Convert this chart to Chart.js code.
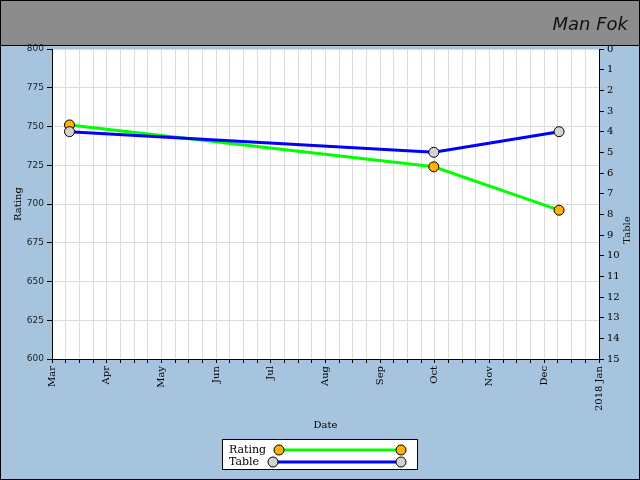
<!DOCTYPE html>
<html>
<head>
<meta charset="utf-8">
<script src="https://cdn.jsdelivr.net/npm/chart.js@4"></script>
<style>
  html, body { margin: 0; padding: 0; background: #a6c4de; }
  #wrap { width: 640px; height: 480px; position: relative; }
</style>
</head>
<body>
<div id="wrap"><canvas id="ratingChart" width="640" height="480"></canvas></div>
<script>
// month ticks, one label per whole month counted from 1 Mar
const monthLabels = ['Mar', 'Apr', 'May', 'Jun', 'Jul', 'Aug', 'Sep', 'Oct', 'Nov', 'Dec', '2018 Jan'];
// match dates as months since 1 Mar
const matchDates = [0.32, 6.98, 9.27];
const ratingValues = [751, 724, 696];
const tablePositions = [4, 5, 4];

const playerName = 'Man Fok';
const serif = 'DejaVu Serif';

function toPoints(xs, ys) {
  return xs.map((x, i) => ({ x: x, y: ys[i] }));
}

function drawMarker(ctx, x, y, fill) {
  ctx.beginPath();
  ctx.arc(x, y, 5, 0, Math.PI * 2);
  ctx.fillStyle = fill;
  ctx.fill();
  ctx.lineWidth = 1;
  ctx.strokeStyle = '#000';
  ctx.stroke();
}

const framePlugin = {
  id: 'frame',
  beforeDraw(chart) {
    const ctx = chart.ctx;
    const a = chart.chartArea;
    ctx.save();
    ctx.fillStyle = '#a6c4de';
    ctx.fillRect(0, 0, 640, 480);
    ctx.fillStyle = '#8c8c8c';
    ctx.fillRect(0, 0, 640, 45);
    ctx.fillStyle = '#fff';
    ctx.fillRect(a.left, a.top, a.right - a.left, a.bottom - a.top);
    ctx.restore();
  },
  afterDraw(chart) {
    const ctx = chart.ctx;
    ctx.save();
    // header line and outer border
    ctx.strokeStyle = '#000';
    ctx.lineWidth = 1;
    ctx.beginPath();
    ctx.moveTo(0, 45.5);
    ctx.lineTo(640, 45.5);
    ctx.stroke();
    ctx.strokeRect(0.5, 0.5, 639, 479);

    // player name
    ctx.fillStyle = '#111';
    ctx.font = 'italic 200 18px "DejaVu Sans"';
    ctx.textAlign = 'right';
    ctx.textBaseline = 'alphabetic';
    ctx.fillText(playerName, 628, 30);

    // right axis title, reading upwards
    ctx.font = '10px "' + serif + '"';
    ctx.textAlign = 'center';
    ctx.textBaseline = 'middle';
    ctx.translate(627, 230);
    ctx.rotate(-Math.PI / 2);
    ctx.fillText('Table', 0, 0);
    ctx.setTransform(1, 0, 0, 1, 0, 0);

    // legend box
    ctx.fillStyle = '#fff';
    ctx.fillRect(222, 439, 196, 31);
    ctx.lineWidth = 1;
    ctx.strokeRect(222.5, 439.5, 195, 30);
    const sets = chart.data.datasets;
    const rows = [
      { ds: sets[1], y: 450, x0: 279 },
      { ds: sets[0], y: 462, x0: 273 }
    ];
    ctx.font = '11px "' + serif + '"';
    ctx.textAlign = 'left';
    rows.forEach(r => {
      ctx.fillStyle = '#000';
      ctx.fillText(r.ds.label, 229, r.y);
      ctx.beginPath();
      ctx.moveTo(r.x0, r.y);
      ctx.lineTo(401, r.y);
      ctx.lineWidth = 3;
      ctx.strokeStyle = r.ds.borderColor;
      ctx.stroke();
      drawMarker(ctx, r.x0, r.y, r.ds.pointBackgroundColor);
      drawMarker(ctx, 401, r.y, r.ds.pointBackgroundColor);
    });
    ctx.restore();
  }
};

new Chart(document.getElementById('ratingChart'), {
  type: 'line',
  data: {
    datasets: [
      {
        label: 'Table',
        data: toPoints(matchDates, tablePositions),
        yAxisID: 'y2',
        borderColor: '#0000ff',
        borderWidth: 3,
        pointBackgroundColor: '#d3d3d3',
        pointBorderColor: '#000',
        pointBorderWidth: 1,
        pointRadius: 5,
        order: 0
      },
      {
        label: 'Rating',
        data: toPoints(matchDates, ratingValues),
        yAxisID: 'y',
        borderColor: '#00ff00',
        borderWidth: 3,
        pointBackgroundColor: '#ffb000',
        pointBorderColor: '#000',
        pointBorderWidth: 1,
        pointRadius: 5,
        order: 1
      }
    ]
  },
  options: {
    responsive: false,
    animation: false,
    layout: { padding: { top: 49, left: 8, right: 0, bottom: 45 } },
    plugins: {
      legend: { display: false },
      tooltip: { enabled: false }
    },
    scales: {
      x: {
        type: 'linear',
        min: 0,
        max: 10,
        afterBuildTicks: s => {
          s.ticks = [];
          for (let i = 0; i <= 40; i++) s.ticks.push({ value: i / 4 });
        },
        ticks: {
          autoSkip: false,
          minRotation: 90,
          maxRotation: 90,
          padding: 3,
          color: '#000',
          font: { family: serif, size: 10 },
          callback: v => (Number.isInteger(v) ? monthLabels[v] : '')
        },
        grid: { color: '#dcdcdc', tickColor: '#000', tickLength: 4 },
        border: { color: '#000', width: 1 },
        title: {
          display: true,
          text: 'Date',
          color: '#000',
          font: { family: serif, size: 10 }
        },
        afterFit: s => {
          s.height = 76;
          s.paddingLeft = 0;
          s.paddingRight = 0;
        }
      },
      y: {
        position: 'left',
        min: 600,
        max: 800,
        ticks: {
          stepSize: 25,
          padding: 3,
          color: '#222',
          font: { family: 'DejaVu Sans', size: 9 }
        },
        grid: { color: '#dcdcdc', tickColor: '#000', tickLength: 5 },
        border: { color: '#000', width: 1 },
        title: {
          display: true,
          text: 'Rating',
          color: '#000',
          font: { family: serif, size: 10 }
        },
        afterFit: s => {
          s.width = 44;
          s.paddingTop = 0;
          s.paddingBottom = 0;
        }
      },
      y2: {
        position: 'right',
        min: 0,
        max: 15,
        reverse: true,
        ticks: {
          stepSize: 1,
          padding: 3,
          color: '#000',
          font: { family: serif, size: 10 }
        },
        grid: { drawOnChartArea: false, tickColor: '#000', tickLength: 5 },
        border: { color: '#000', width: 1 },
        afterFit: s => {
          s.width = 41;
          s.paddingTop = 0;
          s.paddingBottom = 0;
        }
      }
    }
  },
  plugins: [framePlugin]
});
</script>
</body>
</html>
